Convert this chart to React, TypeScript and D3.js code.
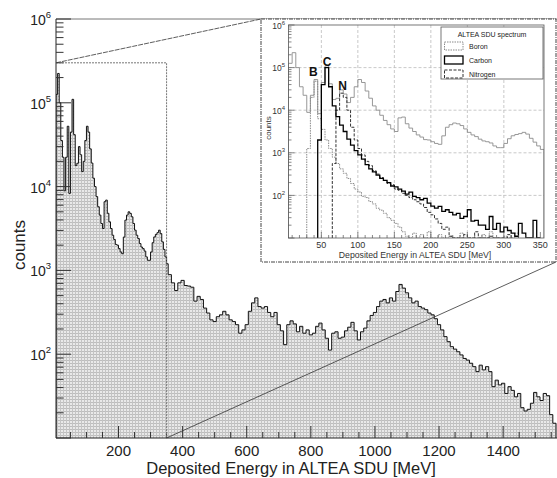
import React, { useRef, useEffect } from "react";
import * as d3 from "d3";

// total spectrum, 5 MeV bins from 5 to 355 MeV (also shown in the inset)
const lowStart = 5;
const lowWidth = 5;
const lowEnergyCounts = [
  126000, 224000, 100000, 35500, 22400, 8900, 22400, 52500, 8300, 44700,
  110000, 41700, 17800, 19000, 30000, 24000, 15100, 20000, 35500, 52500,
  44700, 28200, 19100, 12600, 10000, 7600, 5750, 4570, 3630, 3160,
  6600, 6900, 4800, 3800, 3160, 2630, 2340, 2040, 2000, 1820,
  1660, 1580, 2500, 3980, 4570, 5000, 4790, 4360, 3630, 3020,
  2630, 2400, 2090, 1900, 1820, 1700, 1450, 1320, 1320, 1660,
  2140, 2510, 2690, 2820, 3020, 2750, 2190, 1780, 1450, 1200,
];

// total spectrum, 10 MeV bins from 355 MeV upwards
const highWidth = 10;
const highEnergyCounts = [
  890, 710, 575, 710, 760, 660, 650, 630, 430, 490,
  450, 355, 310, 257, 245, 280, 295, 325, 295, 257,
  245, 225, 178, 195, 225, 325, 410, 470, 370, 355,
  370, 315, 280, 315, 225, 190, 130, 225, 250, 230,
  185, 215, 178, 195, 170, 178, 215, 235, 195, 155,
  112, 178, 185, 155, 160, 190, 210, 240, 190, 148,
  185, 205, 250, 290, 315, 370, 430, 450, 410, 470,
  430, 560, 680, 615, 540, 470, 410, 430, 370, 355,
  340, 310, 295, 265, 225, 195, 162, 141, 123, 115,
  107, 98, 89, 85, 78, 71, 62, 74, 65, 71,
  62, 41, 49, 43, 45, 34, 41, 37, 31, 34,
  23, 21, 22, 26, 35, 31, 28, 34, 32, 19,
  15,
];

// selected ions, same 5 MeV bins as lowEnergyCounts
const boronCounts = [
  0, 0, 0, 0, 0, 1260, 20000, 47900, 6300, 3550,
  2000, 1260, 790, 560, 420, 330, 250, 190, 141, 120,
  95, 89, 72, 63, 50, 45, 38, 30, 26, 22,
  18, 14, 11, 8, 13, 6, 12, 4, 14, 7,
  3, 12, 2, 0, 11, 3, 0, 13, 0, 0,
  9, 0, 0, 12, 0, 14, 0, 0, 0, 11,
  0, 0, 13, 0, 0, 0, 0, 0, 0, 0,
];
const carbonCounts = [
  0, 0, 0, 0, 0, 0, 0, 0, 2000, 39800,
  100000, 35500, 12600, 7080, 4470, 3160, 2090, 1510, 1120, 890,
  710, 525, 420, 355, 300, 250, 225, 200, 166, 158,
  141, 126, 107, 120, 95, 89, 79, 85, 66, 56,
  50, 55, 42, 46, 40, 35, 38, 29, 32, 46,
  25, 26, 20, 20, 16, 32, 16, 22, 14, 18,
  15, 13, 11, 22, 13, 8, 8, 26, 8, 0,
];
const nitrogenCounts = [
  0, 0, 0, 0, 0, 0, 0, 0, 0, 0,
  0, 0, 560, 10000, 25100, 20000, 10000, 3980, 2000, 1260,
  890, 630, 500, 380, 316, 263, 224, 190, 178, 141,
  132, 112, 100, 89, 79, 71, 63, 52, 40, 35,
  28, 22, 16, 18, 11, 8, 0, 0, 12, 0,
  0, 14, 0, 0, 0, 11, 0, 0, 0, 0,
  12, 0, 0, 0, 0, 0, 0, 0, 0, 0,
];

const mainXTicks = [200, 400, 600, 800, 1000, 1200, 1400];
const insetXTicks = [50, 100, 150, 200, 250, 300, 350];
const decadeExponents = [2, 3, 4, 5, 6];
const legendItems = ["Boron", "Carbon", "Nitrogen"];
const peakNames = ["B", "C", "N"];
const peakEnergies = [39, 58, 79];
const peakLabelCounts = [62000, 112000, 30000];
const zoomEnergy = 350;
const zoomCounts = 300000;

const FONT = "'Liberation Sans', Arial, Helvetica, sans-serif";

function makeBins(counts, start, width) {
  return counts.map((v, i) => ({ x0: start + i * width, x1: start + (i + 1) * width, v }));
}

function logTicks(lo, hi) {
  const t = [];
  for (let d = lo; d < hi; d *= 10) {
    for (let m = 1; m < 10; m++) t.push({ v: m * d, major: m === 1 });
  }
  t.push({ v: hi, major: true });
  return t;
}

function stepPath(bins, x, y, floor) {
  let first = bins.findIndex((b) => b.v > 0);
  let last = bins.length - 1;
  while (last > 0 && bins[last].v <= 0) last--;
  if (first < 0) return "";
  const base = y.range()[0];
  const pts = [[x(bins[first].x0), base]];
  for (let i = first; i <= last; i++) {
    const yy = y(Math.max(bins[i].v, floor));
    pts.push([x(bins[i].x0), yy]);
    pts.push([x(bins[i].x1), yy]);
  }
  pts.push([x(bins[last].x1), base]);
  return d3.line()(pts);
}

function App() {
  const svgRef = useRef(null);

  useEffect(() => {
    const svg = d3.select(svgRef.current);
    svg.selectAll("*").remove();

    const W = 557;
    const plot = { left: 56, top: 19, right: 557, bottom: 438 };
    const x = d3.scaleLinear().domain([5, 1568]).range([plot.left, plot.right]);
    const y = d3.scaleLog().domain([10, 1e6]).range([plot.bottom, plot.top]);

    const defs = svg.append("defs");
    const pat = defs
      .append("pattern")
      .attr("id", "mesh")
      .attr("width", 3)
      .attr("height", 3)
      .attr("patternUnits", "userSpaceOnUse");
    pat.append("rect").attr("width", 3).attr("height", 3).attr("fill", "#e9e9e9");
    pat.append("rect").attr("width", 3).attr("height", 1).attr("fill", "#bdbdbd");
    pat.append("rect").attr("width", 1).attr("height", 3).attr("fill", "#c4c4c4");

    defs
      .append("clipPath")
      .attr("id", "mainClip")
      .append("rect")
      .attr("x", plot.left)
      .attr("y", plot.top)
      .attr("width", plot.right - plot.left)
      .attr("height", plot.bottom - plot.top);

    // main histogram
    const mainBins = makeBins(lowEnergyCounts, lowStart, lowWidth).concat(
      makeBins(highEnergyCounts, lowStart + lowEnergyCounts.length * lowWidth, highWidth)
    );
    const mainPath = stepPath(mainBins, x, y, 10);
    const mg = svg.append("g").attr("clip-path", "url(#mainClip)");
    mg.append("path").attr("d", mainPath).attr("fill", "url(#mesh)").attr("stroke", "none");
    mg.append("path")
      .attr("d", mainPath)
      .attr("fill", "none")
      .attr("stroke", "#111")
      .attr("stroke-width", 1);

    // frame
    svg.append("line")
      .attr("x1", plot.left).attr("x2", W).attr("y1", plot.top).attr("y2", plot.top)
      .attr("stroke", "#777").attr("stroke-width", 1);
    svg.append("line")
      .attr("x1", plot.left).attr("x2", plot.left).attr("y1", plot.top).attr("y2", plot.bottom)
      .attr("stroke", "#222").attr("stroke-width", 1);
    svg.append("line")
      .attr("x1", plot.left).attr("x2", W).attr("y1", plot.bottom).attr("y2", plot.bottom)
      .attr("stroke", "#222").attr("stroke-width", 1.2);

    // main y ticks
    svg.append("g")
      .selectAll("line")
      .data(logTicks(10, 1e6))
      .join("line")
      .attr("x1", plot.left)
      .attr("x2", (d) => plot.left + (d.major ? 15 : 7.5))
      .attr("y1", (d) => y(d.v))
      .attr("y2", (d) => y(d.v))
      .attr("stroke", "#333")
      .attr("stroke-width", 1);

    const yl = svg.append("g")
      .selectAll("text")
      .data(decadeExponents)
      .join("text")
      .attr("x", 51)
      .attr("y", (d) => y(Math.pow(10, d)) + 6)
      .attr("text-anchor", "end")
      .attr("font-family", FONT)
      .attr("font-size", 14)
      .attr("fill", "#222");
    yl.append("tspan").text("10");
    yl.append("tspan").attr("dy", -7).attr("font-size", 9.5).text((d) => d);

    // main x ticks
    const xMinor = d3.range(50, 1560, 50);
    svg.append("g")
      .selectAll("line")
      .data(xMinor)
      .join("line")
      .attr("x1", (d) => x(d))
      .attr("x2", (d) => x(d))
      .attr("y1", plot.bottom)
      .attr("y2", (d) => plot.bottom - (d % 200 === 0 ? 12 : 6))
      .attr("stroke", "#333")
      .attr("stroke-width", 1);
    svg.append("g")
      .selectAll("text")
      .data(mainXTicks)
      .join("text")
      .attr("x", (d) => x(d))
      .attr("y", 456)
      .attr("text-anchor", "middle")
      .attr("font-family", FONT)
      .attr("font-size", 15)
      .attr("fill", "#222")
      .text((d) => d);

    svg.append("text")
      .attr("x", 291)
      .attr("y", 474)
      .attr("text-anchor", "middle")
      .attr("font-family", FONT)
      .attr("font-size", 16.5)
      .attr("fill", "#222")
      .text("Deposited Energy in ALTEA SDU [MeV]");
    svg.append("text")
      .attr("transform", "translate(25,245) rotate(-90)")
      .attr("text-anchor", "middle")
      .attr("font-family", FONT)
      .attr("font-size", 17)
      .attr("fill", "#222")
      .text("counts");

    // zoom box in main plot
    const zx = x(zoomEnergy);
    const zy = y(zoomCounts);
    svg.append("path")
      .attr("d", `M${plot.left},${zy}L${zx},${zy}L${zx},${plot.bottom}`)
      .attr("fill", "none")
      .attr("stroke", "#777")
      .attr("stroke-width", 1)
      .attr("stroke-dasharray", "2,1");

    // inset
    const box = { left: 261, top: 19, right: 556, bottom: 262 };
    const ip = { left: 288.5, top: 25, right: 544, bottom: 238 };
    const ix = d3.scaleLinear().domain([5, 355]).range([ip.left, ip.right]);
    const iy = d3.scaleLog().domain([10, 1e6]).range([ip.bottom, ip.top]);

    svg.append("rect")
      .attr("x", box.left)
      .attr("y", box.top)
      .attr("width", box.right - box.left)
      .attr("height", box.bottom - box.top)
      .attr("fill", "white")
      .attr("stroke", "#444")
      .attr("stroke-width", 1)
      .attr("stroke-dasharray", "4,1,1,1");

    defs
      .append("clipPath")
      .attr("id", "insetClip")
      .append("rect")
      .attr("x", ip.left)
      .attr("y", ip.top)
      .attr("width", ip.right - ip.left)
      .attr("height", ip.bottom - ip.top);

    const ig = svg.append("g");
    // grid
    ig.append("g")
      .selectAll("line")
      .data(insetXTicks.filter((d) => d < 350))
      .join("line")
      .attr("x1", (d) => ix(d))
      .attr("x2", (d) => ix(d))
      .attr("y1", ip.top)
      .attr("y2", ip.bottom)
      .attr("stroke", "#bbb")
      .attr("stroke-width", 0.8)
      .attr("stroke-dasharray", "3,2");
    ig.append("g")
      .selectAll("line")
      .data([2, 3, 4, 5])
      .join("line")
      .attr("x1", ip.left)
      .attr("x2", ip.right)
      .attr("y1", (d) => iy(Math.pow(10, d)))
      .attr("y2", (d) => iy(Math.pow(10, d)))
      .attr("stroke", "#bbb")
      .attr("stroke-width", 0.8)
      .attr("stroke-dasharray", "3,2");

    const series = [
      { counts: lowEnergyCounts, stroke: "#8c8c8c", width: 0.9, dash: null },
      { counts: boronCounts, stroke: "#8a8a8a", width: 1, dash: "1.5,1" },
      { counts: nitrogenCounts, stroke: "#333", width: 1, dash: "3,1.5" },
      { counts: carbonCounts, stroke: "#000", width: 1.3, dash: null },
    ];
    const hg = ig.append("g").attr("clip-path", "url(#insetClip)");
    series.forEach((s) => {
      hg.append("path")
        .attr("d", stepPath(makeBins(s.counts, lowStart, lowWidth), ix, iy, 10))
        .attr("fill", "none")
        .attr("stroke", s.stroke)
        .attr("stroke-width", s.width)
        .attr("stroke-dasharray", s.dash);
    });

    ig.append("rect")
      .attr("x", ip.left)
      .attr("y", ip.top)
      .attr("width", ip.right - ip.left)
      .attr("height", ip.bottom - ip.top)
      .attr("fill", "none")
      .attr("stroke", "#555")
      .attr("stroke-width", 0.8);

    // inset ticks
    ig.append("g")
      .selectAll("line")
      .data(logTicks(10, 1e6))
      .join("line")
      .attr("x1", ip.left)
      .attr("x2", (d) => ip.left + (d.major ? 6 : 3))
      .attr("y1", (d) => iy(d.v))
      .attr("y2", (d) => iy(d.v))
      .attr("stroke", "#555")
      .attr("stroke-width", 0.7);
    ig.append("g")
      .selectAll("line")
      .data(d3.range(10, 355, 10))
      .join("line")
      .attr("x1", (d) => ix(d))
      .attr("x2", (d) => ix(d))
      .attr("y1", ip.bottom)
      .attr("y2", (d) => ip.bottom - (d % 50 === 0 ? 6 : 3))
      .attr("stroke", "#555")
      .attr("stroke-width", 0.7);

    const iyl = ig.append("g")
      .selectAll("text")
      .data(decadeExponents)
      .join("text")
      .attr("x", 285)
      .attr("y", (d) => iy(Math.pow(10, d)) + 3.5)
      .attr("text-anchor", "end")
      .attr("font-family", FONT)
      .attr("font-size", 8.5)
      .attr("fill", "#333");
    iyl.append("tspan").text("10");
    iyl.append("tspan").attr("dy", -4).attr("font-size", 6).text((d) => d);

    ig.append("g")
      .selectAll("text")
      .data(insetXTicks)
      .join("text")
      .attr("x", (d) => ix(d))
      .attr("y", 248)
      .attr("text-anchor", "middle")
      .attr("font-family", FONT)
      .attr("font-size", 9)
      .attr("fill", "#333")
      .text((d) => d);
    ig.append("text")
      .attr("x", 415)
      .attr("y", 258)
      .attr("text-anchor", "middle")
      .attr("font-family", FONT)
      .attr("font-size", 8.7)
      .attr("fill", "#333")
      .text("Deposited Energy in ALTEA SDU [MeV]");
    ig.append("text")
      .attr("transform", "translate(271,128) rotate(-90)")
      .attr("text-anchor", "middle")
      .attr("font-family", FONT)
      .attr("font-size", 8)
      .attr("fill", "#333")
      .text("counts");

    // peak labels
    ig.append("g")
      .selectAll("text")
      .data(peakNames)
      .join("text")
      .attr("x", (d, i) => ix(peakEnergies[i]))
      .attr("y", (d, i) => iy(peakLabelCounts[i]))
      .attr("text-anchor", "middle")
      .attr("font-family", FONT)
      .attr("font-weight", "bold")
      .attr("font-size", 12)
      .attr("fill", "#111")
      .text((d) => d);

    // legend
    const lg = ig.append("g");
    lg.append("rect")
      .attr("x", 441)
      .attr("y", 27)
      .attr("width", 102)
      .attr("height", 52)
      .attr("fill", "white")
      .attr("stroke", "#555")
      .attr("stroke-width", 0.8);
    lg.append("text")
      .attr("x", 492)
      .attr("y", 36.5)
      .attr("text-anchor", "middle")
      .attr("font-family", FONT)
      .attr("font-size", 7)
      .attr("fill", "#222")
      .text("ALTEA SDU spectrum");
    const itemStyles = [series[1], series[3], series[2]];
    legendItems.forEach((name, i) => {
      const cy = 46 + i * 14;
      const s = itemStyles[i];
      lg.append("rect")
        .attr("x", 444.5)
        .attr("y", cy - 4)
        .attr("width", 18.5)
        .attr("height", 8)
        .attr("fill", "white")
        .attr("stroke", s.stroke)
        .attr("stroke-width", s.width)
        .attr("stroke-dasharray", s.dash);
      lg.append("text")
        .attr("x", 469)
        .attr("y", cy + 2.5)
        .attr("font-family", FONT)
        .attr("font-size", 7)
        .attr("fill", "#222")
        .text(name);
    });

    // zoom connector lines
    svg.append("line")
      .attr("x1", plot.left).attr("y1", zy)
      .attr("x2", box.left).attr("y2", box.top)
      .attr("stroke", "#333").attr("stroke-width", 0.8)
      .attr("stroke-dasharray", "5,1");
    svg.append("line")
      .attr("x1", zx).attr("y1", plot.bottom)
      .attr("x2", box.right).attr("y2", box.bottom)
      .attr("stroke", "#333").attr("stroke-width", 0.8);
  }, []);

  return (
    <svg
      ref={svgRef}
      width={557}
      height={478}
      style={{ position: "absolute", left: 0, top: 0, background: "white" }}
    />
  );
}

export default App;
